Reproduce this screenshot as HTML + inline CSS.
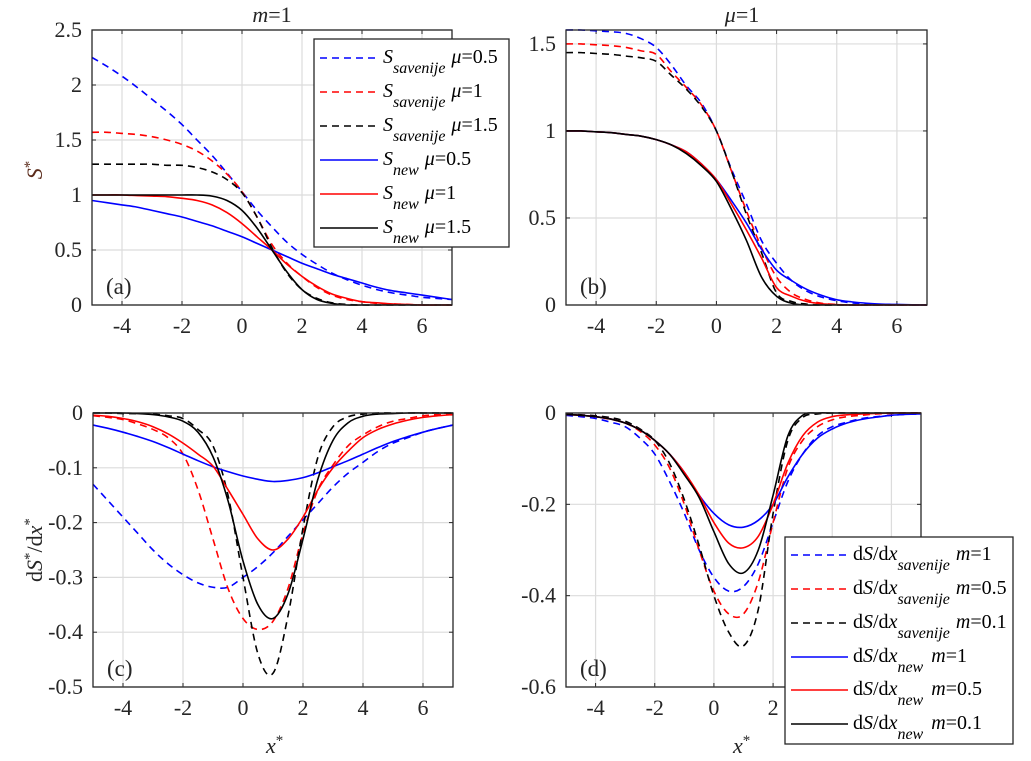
<!DOCTYPE html>
<html><head><meta charset="utf-8"><style>
html,body{margin:0;padding:0;background:#fff;}
svg{display:block;font-family:"Liberation Serif",serif;}
</style></head><body>
<svg id="chart" width="1031" height="761" viewBox="0 0 1031 761" xmlns="http://www.w3.org/2000/svg"></svg>
<script>
// x samples: -5 to 7 step 0.5
const xs = [-5,-4.5,-4,-3.5,-3,-2.5,-2,-1.5,-1,-0.5,0,0.5,1,1.5,2,2.5,3,3.5,4,4.5,5,5.5,6,6.5,7];
// panel (a): S*, m=1
const aSavB = [2.25,2.17,2.08,1.98,1.87,1.76,1.64,1.50,1.36,1.20,1.03,0.86,0.71,0.57,0.46,0.37,0.29,0.23,0.18,0.14,0.11,0.09,0.07,0.06,0.05];
const aSavR = [1.57,1.57,1.56,1.55,1.53,1.50,1.46,1.40,1.31,1.19,1.03,0.80,0.55,0.38,0.26,0.16,0.09,0.05,0.03,0.015,0.01,0.005,0,0,0];
const aSavK = [1.28,1.28,1.28,1.28,1.28,1.27,1.27,1.25,1.21,1.14,1.02,0.80,0.52,0.29,0.14,0.06,0.02,0.005,0,0,0,0,0,0,0];
const aNewB = [0.95,0.93,0.91,0.89,0.86,0.83,0.80,0.76,0.72,0.67,0.62,0.56,0.50,0.44,0.38,0.33,0.28,0.24,0.20,0.16,0.13,0.11,0.09,0.07,0.05];
const aNewR = [1,1,1,0.995,0.99,0.985,0.97,0.95,0.91,0.84,0.74,0.62,0.5,0.37,0.26,0.17,0.1,0.06,0.03,0.02,0.01,0.005,0,0,0];
const aNewK = [1,1,1,1,1,1,1,1,0.99,0.95,0.86,0.70,0.5,0.3,0.14,0.05,0.015,0,0,0,0,0,0,0,0];
// panel (b): S*, mu=1
const bSavB = [1.58,1.58,1.575,1.57,1.56,1.53,1.48,1.38,1.26,1.16,1.0,0.78,0.58,0.37,0.24,0.14,0.08,0.045,0.025,0.012,0.006,0.003,0.001,0,0];
const bSavR = [1.50,1.50,1.495,1.49,1.48,1.46,1.44,1.34,1.25,1.15,1.0,0.77,0.54,0.33,0.16,0.07,0.03,0.01,0.003,0,0,0,0,0,0];
const bSavK = [1.45,1.45,1.445,1.44,1.43,1.42,1.40,1.32,1.24,1.14,1.0,0.77,0.52,0.30,0.07,0.02,0.005,0,0,0,0,0,0,0,0];
const bNewB = [1,1,0.995,0.99,0.98,0.97,0.95,0.92,0.88,0.81,0.72,0.60,0.47,0.32,0.20,0.14,0.09,0.055,0.03,0.018,0.01,0.005,0.003,0.001,0];
const bNewR = [1,1,0.995,0.99,0.98,0.97,0.95,0.92,0.88,0.81,0.72,0.58,0.43,0.27,0.10,0.05,0.02,0.007,0.002,0,0,0,0,0,0];
const bNewK = [1,1,0.995,0.99,0.98,0.97,0.95,0.92,0.87,0.80,0.71,0.55,0.37,0.16,0.05,0.01,0,0,0,0,0,0,0,0,0];
// panel (c): dS*/dx*, m=1
const cSavB = [-0.13,-0.16,-0.19,-0.22,-0.25,-0.275,-0.295,-0.31,-0.318,-0.318,-0.30,-0.28,-0.255,-0.225,-0.195,-0.165,-0.135,-0.11,-0.09,-0.07,-0.055,-0.045,-0.035,-0.028,-0.022];
const cSavR = [-0.005,-0.008,-0.012,-0.02,-0.03,-0.045,-0.075,-0.14,-0.23,-0.32,-0.375,-0.395,-0.38,-0.32,-0.22,-0.14,-0.095,-0.06,-0.04,-0.025,-0.015,-0.01,-0.005,-0.003,-0.002];
const cSavK = [0,0,-0.001,-0.001,-0.002,-0.005,-0.01,-0.03,-0.06,-0.15,-0.3,-0.44,-0.475,-0.37,-0.21,-0.08,-0.025,-0.007,-0.002,0,0,0,0,0,0];
const cNewB = [-0.022,-0.028,-0.035,-0.043,-0.052,-0.063,-0.075,-0.087,-0.098,-0.107,-0.115,-0.121,-0.125,-0.123,-0.118,-0.109,-0.098,-0.087,-0.075,-0.063,-0.052,-0.043,-0.035,-0.028,-0.022];
const cNewR = [-0.004,-0.006,-0.01,-0.016,-0.025,-0.038,-0.055,-0.075,-0.097,-0.14,-0.185,-0.23,-0.25,-0.23,-0.19,-0.14,-0.1,-0.07,-0.045,-0.03,-0.02,-0.013,-0.008,-0.005,-0.003];
const cNewK = [0,0,0,-0.001,-0.003,-0.007,-0.015,-0.035,-0.08,-0.16,-0.27,-0.35,-0.375,-0.33,-0.23,-0.12,-0.05,-0.018,-0.006,-0.002,-0.001,0,0,0,0];
// panel (d): dS*/dx*, mu=1
const dSavB = [-0.005,-0.008,-0.012,-0.02,-0.03,-0.055,-0.09,-0.15,-0.22,-0.3,-0.36,-0.39,-0.38,-0.33,-0.24,-0.15,-0.09,-0.05,-0.03,-0.02,-0.012,-0.008,-0.005,-0.003,-0.002];
const dSavR = [-0.003,-0.005,-0.008,-0.014,-0.022,-0.04,-0.07,-0.12,-0.2,-0.3,-0.39,-0.44,-0.44,-0.37,-0.24,-0.12,-0.06,-0.03,-0.015,-0.008,-0.005,-0.002,-0.001,0,0];
const dSavK = [-0.002,-0.004,-0.006,-0.01,-0.018,-0.035,-0.06,-0.11,-0.19,-0.29,-0.4,-0.48,-0.51,-0.43,-0.22,-0.06,-0.01,-0.002,0,0,0,0,0,0,0];
const dNewB = [-0.003,-0.005,-0.008,-0.013,-0.022,-0.037,-0.06,-0.09,-0.13,-0.18,-0.22,-0.245,-0.25,-0.235,-0.2,-0.14,-0.09,-0.055,-0.035,-0.022,-0.014,-0.009,-0.005,-0.003,-0.002];
const dNewR = [-0.003,-0.005,-0.008,-0.013,-0.022,-0.037,-0.06,-0.09,-0.13,-0.18,-0.24,-0.285,-0.295,-0.27,-0.2,-0.11,-0.05,-0.02,-0.008,-0.004,-0.002,-0.001,0,0,0];
const dNewK = [-0.003,-0.005,-0.008,-0.013,-0.022,-0.037,-0.06,-0.09,-0.135,-0.185,-0.26,-0.33,-0.35,-0.3,-0.18,-0.05,-0.005,0,0,0,0,0,0,0,0];
// ticks
const xTicks = [-4,-2,0,2,4,6];
const aYTicks = [0,0.5,1,1.5,2,2.5];
const bYTicks = [0,0.5,1,1.5];
const cYTicks = [0,-0.1,-0.2,-0.3,-0.4,-0.5];
const dYTicks = [0,-0.2,-0.4,-0.6];

const NS = "http://www.w3.org/2000/svg";
const svg = document.getElementById('chart');
function mk(tag, attrs, parent){
  const e = document.createElementNS(NS, tag);
  for (const k in attrs) e.setAttribute(k, attrs[k]);
  (parent||svg).appendChild(e);
  return e;
}

const panels = [
  {id:'a', L:92, R:452, T:30, B:305, ymin:0, ymax:2.5, yt:aYTicks,
   series:[[aSavB,'#0000ff',true],[aSavR,'#ff0000',true],[aSavK,'#000',true],[aNewB,'#0000ff',false],[aNewR,'#ff0000',false],[aNewK,'#000',false]]},
  {id:'b', L:566, R:927, T:30, B:305, ymin:0, ymax:1.58, yt:bYTicks,
   series:[[bSavB,'#0000ff',true],[bSavR,'#ff0000',true],[bSavK,'#000',true],[bNewB,'#0000ff',false],[bNewR,'#ff0000',false],[bNewK,'#000',false]]},
  {id:'c', L:93, R:453, T:413, B:687, ymin:-0.5, ymax:0, yt:cYTicks,
   series:[[cSavB,'#0000ff',true],[cSavR,'#ff0000',true],[cSavK,'#000',true],[cNewB,'#0000ff',false],[cNewR,'#ff0000',false],[cNewK,'#000',false]]},
  {id:'d', L:566, R:921, T:413, B:687, ymin:-0.6, ymax:0, yt:dYTicks,
   series:[[dSavB,'#0000ff',true],[dSavR,'#ff0000',true],[dSavK,'#000',true],[dNewB,'#0000ff',false],[dNewR,'#ff0000',false],[dNewK,'#000',false]]}
];

panels.forEach(p => {
  const g = mk('g', {});
  
  
  const sx = v => p.L + (v + 5) / 12 * (p.R - p.L);
  const sy = v => p.B - (v - p.ymin) / (p.ymax - p.ymin) * (p.B - p.T);
  xTicks.forEach(t => {
    const l = mk('line', {x1:sx(t), x2:sx(t), y1:p.T, y2:p.B, stroke:'#dcdcdc', 'stroke-width':1.2}, g);
    
    
    mk('line', {x1:sx(t), x2:sx(t), y1:p.B, y2:p.B-4, stroke:'#262626', 'stroke-width':1}, g);
    mk('line', {x1:sx(t), x2:sx(t), y1:p.T, y2:p.T+4, stroke:'#262626', 'stroke-width':1}, g);
    const tx = mk('text', {x:sx(t), y:p.B+28, 'text-anchor':'middle', 'font-size':22, fill:'#262626'}, g);
    tx.textContent = t < 0 ? '-' + Math.abs(t) : String(t);
    
    
  });
  p.yt.forEach(t => {
    const l = mk('line', {x1:p.L, x2:p.R, y1:sy(t), y2:sy(t), stroke:'#dcdcdc', 'stroke-width':1.2}, g);
    
    
    mk('line', {x1:p.L, x2:p.L+4, y1:sy(t), y2:sy(t), stroke:'#262626', 'stroke-width':1}, g);
    mk('line', {x1:p.R, x2:p.R-4, y1:sy(t), y2:sy(t), stroke:'#262626', 'stroke-width':1}, g);
    const tx = mk('text', {x:p.L-10, y:sy(t)+7, 'text-anchor':'end', 'font-size':22, fill:'#262626'}, g);
    tx.textContent = t < 0 ? '-' + String(Math.abs(t)) : String(t);
    
    
  });
  const names = ['savenije-1','savenije-2','savenije-3','new-1','new-2','new-3'];
  p.series.forEach((s, si) => {
    const vals = s[0];
    const pts = xs.map((x, i) => [sx(x), sy(vals[i])]);
    let d = 'M' + pts[0][0].toFixed(2) + ',' + pts[0][1].toFixed(2);
    for (let i = 0; i < pts.length - 1; i++) {
      const p0 = pts[Math.max(0, i-1)], p1 = pts[i], p2 = pts[i+1], p3 = pts[Math.min(pts.length-1, i+2)];
      const c1x = p1[0] + (p2[0]-p0[0])/6, c1y = p1[1] + (p2[1]-p0[1])/6;
      const c2x = p2[0] - (p3[0]-p1[0])/6, c2y = p2[1] - (p3[1]-p1[1])/6;
      d += 'C' + c1x.toFixed(2)+','+c1y.toFixed(2)+' '+c2x.toFixed(2)+','+c2y.toFixed(2)+' '+p2[0].toFixed(2)+','+p2[1].toFixed(2);
    }
    const attrs = {d:d, fill:'none', stroke:s[1], 'stroke-width':1.6};
    if (s[2]) attrs['stroke-dasharray'] = '7,5';
    const path = mk('path', attrs, g);
    
    
  });
  const fr = mk('rect', {x:p.L, y:p.T, width:p.R-p.L, height:p.B-p.T, fill:'none', stroke:'#262626', 'stroke-width':1.3}, g);
  
  
  const lb = mk('text', {x:p.L+14, y:p.B-11, 'font-size':23, fill:'#262626'}, g);
  lb.textContent = '(' + p.id + ')';
  
  
});
</script>
<svg style="position:absolute;left:0;top:0" width="1031" height="761" viewBox="0 0 1031 761" xmlns="http://www.w3.org/2000/svg" font-family="Liberation Serif, serif">
  <text x="272" y="22" text-anchor="middle" font-size="22" fill="#262626"><tspan font-style="italic">m</tspan>=1</text>
  <text x="742" y="22" text-anchor="middle" font-size="22" fill="#262626"><tspan font-style="italic">μ</tspan>=1</text>
  <text transform="translate(42,170) rotate(-90)" text-anchor="middle" font-size="22" fill="#5a2a1a"><tspan font-style="italic">S</tspan><tspan dy="-8" font-size="15">*</tspan></text>
  <text transform="translate(42,550) rotate(-90)" text-anchor="middle" font-size="22" fill="#262626">d<tspan font-style="italic">S</tspan><tspan dy="-8" font-size="15">*</tspan><tspan dy="8">/d</tspan><tspan font-style="italic">x</tspan><tspan dy="-8" font-size="15">*</tspan></text>
  <text x="266" y="753" font-size="22" fill="#262626"><tspan font-style="italic">x</tspan><tspan dy="-8" font-size="15">*</tspan></text>
  <text x="733" y="753" font-size="22" fill="#262626"><tspan font-style="italic">x</tspan><tspan dy="-8" font-size="15">*</tspan></text>

  <g font-size="20" fill="#000">
    <rect x="314" y="39" width="195" height="208" fill="#fff" stroke="#262626" stroke-width="1.3"/>
    <line x1="320" y1="58" x2="378" y2="58" stroke="#0000ff" stroke-width="1.6" stroke-dasharray="7,5"/>
    <text x="383" y="63"><tspan font-style="italic">S</tspan><tspan font-style="italic" font-size="16" dy="10">savenije</tspan><tspan dy="-10" dx="6"><tspan font-style="italic">μ</tspan>=0.5</tspan></text>
    <line x1="320" y1="92" x2="378" y2="92" stroke="#ff0000" stroke-width="1.6" stroke-dasharray="7,5"/>
    <text x="383" y="97"><tspan font-style="italic">S</tspan><tspan font-style="italic" font-size="16" dy="10">savenije</tspan><tspan dy="-10" dx="6"><tspan font-style="italic">μ</tspan>=1</tspan></text>
    <line x1="320" y1="126" x2="378" y2="126" stroke="#000" stroke-width="1.6" stroke-dasharray="7,5"/>
    <text x="383" y="131"><tspan font-style="italic">S</tspan><tspan font-style="italic" font-size="16" dy="10">savenije</tspan><tspan dy="-10" dx="6"><tspan font-style="italic">μ</tspan>=1.5</tspan></text>
    <line x1="320" y1="160" x2="378" y2="160" stroke="#0000ff" stroke-width="1.6"/>
    <text x="383" y="165"><tspan font-style="italic">S</tspan><tspan font-style="italic" font-size="16" dy="10">new</tspan><tspan dy="-10" dx="6"><tspan font-style="italic">μ</tspan>=0.5</tspan></text>
    <line x1="320" y1="194" x2="378" y2="194" stroke="#ff0000" stroke-width="1.6"/>
    <text x="383" y="199"><tspan font-style="italic">S</tspan><tspan font-style="italic" font-size="16" dy="10">new</tspan><tspan dy="-10" dx="6"><tspan font-style="italic">μ</tspan>=1</tspan></text>
    <line x1="320" y1="228" x2="378" y2="228" stroke="#000" stroke-width="1.6"/>
    <text x="383" y="233"><tspan font-style="italic">S</tspan><tspan font-style="italic" font-size="16" dy="10">new</tspan><tspan dy="-10" dx="6"><tspan font-style="italic">μ</tspan>=1.5</tspan></text>
  </g>

  <g font-size="20" fill="#000">
    <rect x="785" y="537" width="228" height="207" fill="#fff" stroke="#262626" stroke-width="1.3"/>
    <line x1="791" y1="555" x2="848" y2="555" stroke="#0000ff" stroke-width="1.6" stroke-dasharray="7,5"/>
    <text x="853" y="560">d<tspan font-style="italic">S</tspan>/d<tspan font-style="italic">x</tspan><tspan font-style="italic" font-size="16" dy="10">savenije</tspan><tspan dy="-10" dx="6"><tspan font-style="italic">m</tspan>=1</tspan></text>
    <line x1="791" y1="589" x2="848" y2="589" stroke="#ff0000" stroke-width="1.6" stroke-dasharray="7,5"/>
    <text x="853" y="594">d<tspan font-style="italic">S</tspan>/d<tspan font-style="italic">x</tspan><tspan font-style="italic" font-size="16" dy="10">savenije</tspan><tspan dy="-10" dx="6"><tspan font-style="italic">m</tspan>=0.5</tspan></text>
    <line x1="791" y1="623" x2="848" y2="623" stroke="#000" stroke-width="1.6" stroke-dasharray="7,5"/>
    <text x="853" y="628">d<tspan font-style="italic">S</tspan>/d<tspan font-style="italic">x</tspan><tspan font-style="italic" font-size="16" dy="10">savenije</tspan><tspan dy="-10" dx="6"><tspan font-style="italic">m</tspan>=0.1</tspan></text>
    <line x1="791" y1="657" x2="848" y2="657" stroke="#0000ff" stroke-width="1.6"/>
    <text x="853" y="662">d<tspan font-style="italic">S</tspan>/d<tspan font-style="italic">x</tspan><tspan font-style="italic" font-size="16" dy="10">new</tspan><tspan dy="-10" dx="8"><tspan font-style="italic">m</tspan>=1</tspan></text>
    <line x1="791" y1="690" x2="848" y2="690" stroke="#ff0000" stroke-width="1.6"/>
    <text x="853" y="695">d<tspan font-style="italic">S</tspan>/d<tspan font-style="italic">x</tspan><tspan font-style="italic" font-size="16" dy="10">new</tspan><tspan dy="-10" dx="8"><tspan font-style="italic">m</tspan>=0.5</tspan></text>
    <line x1="791" y1="724" x2="848" y2="724" stroke="#000" stroke-width="1.6"/>
    <text x="853" y="729">d<tspan font-style="italic">S</tspan>/d<tspan font-style="italic">x</tspan><tspan font-style="italic" font-size="16" dy="10">new</tspan><tspan dy="-10" dx="8"><tspan font-style="italic">m</tspan>=0.1</tspan></text>
  </g>
</svg>
</body></html>
